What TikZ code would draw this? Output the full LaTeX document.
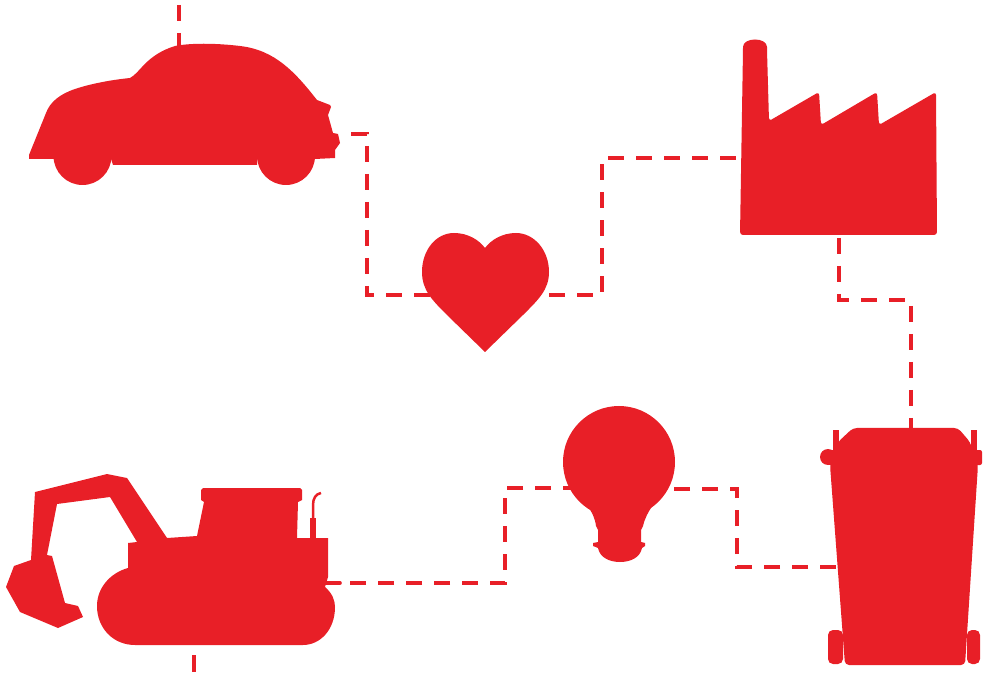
\documentclass[tikz,border=0pt]{standalone}
\usepackage{xcolor}
\definecolor{colorRed}{HTML}{E81F27}
\def\colorRed{colorRed}
\tikzset{
  wire/.style={\colorRed, line width=3.6pt, dash pattern=on 16pt off 12pt},
  solidwire/.style={\colorRed, line width=3.6pt},
}

\begin{document}
\begin{tikzpicture}[x=1pt,y=-1pt]
  \useasboundingbox (0,0) rectangle (986,676);

  % Points where the lines meet the shapes
  \coordinate (topEnd) at (179,5);
  \coordinate (carTop) at (179,46);
  \coordinate (carOut) at (351,134);
  \coordinate (bendCar) at (367,295);
  \coordinate (heartIn) at (430,295);
  \coordinate (heartOut) at (549,295);
  \coordinate (bendHeart) at (602,158);
  \coordinate (factoryIn) at (742,158);
  \coordinate (factoryOut) at (839,238);
  \coordinate (bendFactory) at (911,300);
  \coordinate (binTop) at (911,430);
  \coordinate (binOut) at (836,567);
  \coordinate (bendBin) at (737,489);
  \coordinate (bulbOut) at (672,489);
  \coordinate (bulbIn) at (579,488);
  \coordinate (bendBulb) at (505,583);
  \coordinate (diggerOut) at (340,583);
  \coordinate (diggerStub) at (325,583);
  \coordinate (diggerLow) at (194,655);
  \coordinate (lowEnd) at (194,672);

  % Lignes
  \draw[wire] (topEnd) -- (carTop);
  \draw[wire] (carOut) -| (bendCar) -- (heartIn);
  \draw[wire] (heartOut) -| (bendHeart) -- (factoryIn);
  \draw[wire] (factoryOut) |- (bendFactory) -- (binTop);
  \draw[wire] (binOut) -| (bendBin) -- (bulbOut);
  \draw[wire] (bulbIn) -| (bendBulb) |- (diggerOut);
  \draw[solidwire, line cap=round] (diggerStub) -- (diggerOut);
  \draw[solidwire] (diggerLow) -- (lowEnd);

  % Voiture
  \fill[\colorRed] (29,159) -- (29,155) -- (46,113) .. controls (50,102) and (60,94) .. (75,89)
    .. controls (90,84) and (110,80) .. (130,78) .. controls (140,73) and (146,55) .. (175,46)
    .. controls (190,43) and (215,43) .. (240,46) .. controls (275,50) and (295,72) .. (317,100)
    -- (330,105) -- (331,107) -- (328,115) -- (333,133) -- (338,134) -- (340,143) -- (335,150) -- (335,158) -- (315,159) -- (257,159)
    -- (257,165) -- (113,165) -- (111,159) -- cycle;
  \fill[\colorRed] (82.5,156) circle[radius=29];
  \fill[\colorRed] (286,156) circle[radius=29];

  % Coeur
  \fill[\colorRed] (485,352) -- (447,315) .. controls (432,300) and (422,290) .. (422,272)
    .. controls (422,250) and (436,233) .. (454,233)
    .. controls (468,233) and (479,240) .. (485,248)
    .. controls (491,240) and (502,233) .. (516,233)
    .. controls (534,233) and (549,250) .. (549,272)
    .. controls (549,290) and (538,300) .. (523,315) -- cycle;

  % Usine
  \fill[\colorRed, rounded corners=3pt] (743,50) .. controls (743,37) and (767,37) .. (767,50) -- (769,121) -- (819,92) -- (821,125)
    -- (877,92) -- (879,125) -- (936,92) -- (937,235) -- (740,235) -- cycle;

  % Ampoule
  \fill[\colorRed] (619,462) circle[radius=56];
  \fill[\colorRed] (572,490) -- (587,505) .. controls (592,512) and (595,518) .. (596,526) -- (598,530) -- (598,542) -- (593,543) -- (593,546)
    -- (598,548) .. controls (600,558) and (610,562) .. (620,562) .. controls (630,562) and (640,558) .. (642,548)
    -- (645,546) -- (645,543) -- (641,542) -- (641,530) -- (643,526) .. controls (645,518) and (648,512) .. (653,505) -- (667,490) -- cycle;

  % Poubelle
  \fill[\colorRed, rounded corners=4pt] (853,428) -- (958,428) -- (970,442) -- (978,465) -- (965,665) -- (845,665) -- (830,465) -- (838,442) -- cycle;
  \fill[\colorRed] (833,430) rectangle (839,455);
  \fill[\colorRed] (971,430) rectangle (977,455);
  \fill[\colorRed, rounded corners=2pt] (970,450) rectangle (982,465);
  \fill[\colorRed] (828,457) circle[radius=8];
  \fill[\colorRed] (828,450) rectangle (840,465);
  \fill[\colorRed, rounded corners=5pt] (828,630) rectangle (843,664);
  \fill[\colorRed, rounded corners=5pt] (967,630) rectangle (980,664);

  % Pelleteuse
  \fill[\colorRed] (35,492) -- (107,474) -- (127,478) -- (167,538) -- (197,536) -- (204,502) -- (201,500) -- (201,490)
    -- (203,488) -- (300,488) -- (302,490) -- (302,500) -- (298,502) -- (297,538) -- (328,538)
    -- (328,577) -- (325,587) .. controls (332,593) and (335,600) .. (335,607)
    .. controls (335,630) and (320,645) .. (303,645) -- (135,645)
    .. controls (113,645) and (97,628) .. (97,606) .. controls (97,588) and (110,573) .. (128,568)
    -- (128,543) -- (137,542) -- (110,497) -- (57,504) -- (47,555) -- (52,556) -- (65,603) -- (78,606) -- (83,617)
    -- (58,628) -- (20,612) -- (6,587) -- (14,566) -- (31,560) -- cycle;
  \fill[\colorRed] (310,518) rectangle (316,540);
  \draw[\colorRed, line width=2.5pt] (313,520) -- (313,505) .. controls (313,498) and (316,494) .. (321,493);
\end{tikzpicture}
\end{document}
